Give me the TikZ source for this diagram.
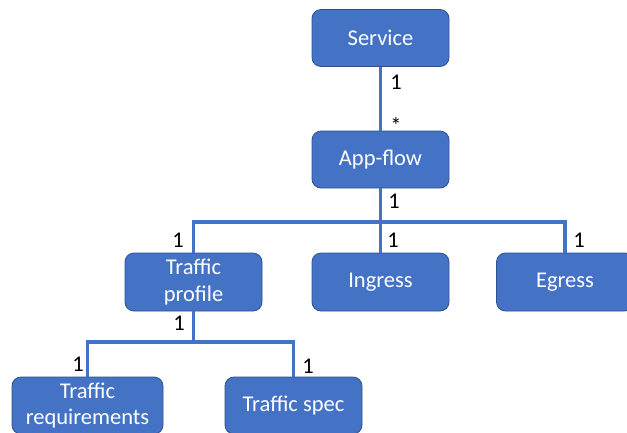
\documentclass[tikz,border=0pt]{standalone}
\usepackage{fontspec}
\setmainfont{Carlito}
\definecolor{boxblue}{HTML}{4472C4}
\definecolor{boxedge}{HTML}{2F528F}
\tikzset{
  cls/.style={draw=boxedge, line width=0.8pt, fill=boxblue, rounded corners=9pt,
    text=white, align=center, inner sep=0pt, minimum width=137pt, minimum height=57pt,
    font=\fontsize{22.5}{26.5}\selectfont},
  link/.style={draw=boxblue, line width=3.2pt},
  mult/.style={inner sep=0pt, font=\fontsize{22.5}{26.5}\selectfont, text=black}
}
\begin{document}
\begin{tikzpicture}[x=1pt, y=-1pt]
  \useasboundingbox (0,0) rectangle (627,432);

  % class boxes
  \node[cls] (service) at (380.5,38) {Service};
  \node[cls] (appflow) at (380.5,159.5) {App-flow};
  \node[cls, minimum height=58pt] (tprofile) at (193.5,282) {Traffic\\profile};
  \node[cls, minimum height=58pt] (ingress) at (380.5,282) {Ingress};
  \node[cls, minimum height=58pt] (egress) at (565,282) {Egress};
  \node[cls, minimum width=151pt] (treq) at (87.5,405.5) {Traffic\\requirements};
  \node[cls] (tspec) at (293.5,405.5) {Traffic spec};

  % branch points
  \coordinate (bar1) at (380.5,222);
  \coordinate (bar2) at (193.5,342);

  % associations
  \draw[link] (service) -- (appflow);
  \draw[link] (appflow) -- (bar1) -- (ingress);
  \draw[link] (bar1) -| (tprofile);
  \draw[link] (bar1) -| (egress);
  \draw[link] (tprofile) -- (bar2);
  \draw[link] (bar2) -| (treq);
  \draw[link] (bar2) -| (tspec);

  % multiplicities
  \node[mult] (m1) at (396,82) {1};
  \node[mult] (m2) at (396,126) {*};
  \node[mult] (m3) at (394,201) {1};
  \node[mult] (m4) at (178,240) {1};
  \node[mult] (m5) at (393,240) {1};
  \node[mult] (m6) at (579,240) {1};
  \node[mult] (m7) at (179,323) {1};
  \node[mult] (m8) at (78,364) {1};
  \node[mult] (m9) at (308,366) {1};
\end{tikzpicture}
\end{document}
